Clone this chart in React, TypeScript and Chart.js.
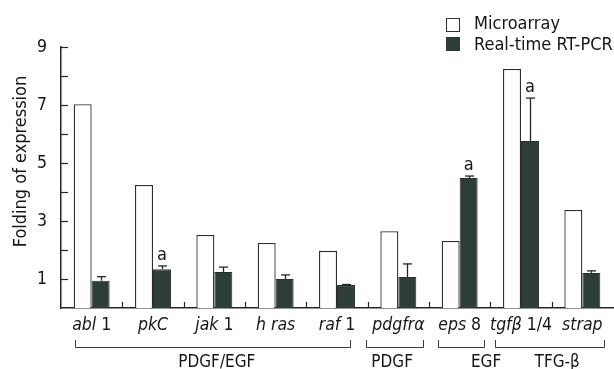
import React, { useEffect, useRef } from 'react';
import { Chart, registerables } from 'chart.js';

Chart.register(...registerables);

// ---- data ----
const categories = ['abl', 'pkC', 'jak', 'h ras', 'raf', 'pdgfrα', 'eps', 'tgfβ', 'strap'];
const categorySuffix = [' 1', '', ' 1', '', ' 1', '', ' 8', ' 1/4', ''];
const seriesNames = ['Microarray', 'Real-time RT-PCR'];
const microarray = [7.03, 4.24, 2.52, 2.24, 1.97, 2.65, 2.31, 8.24, 3.38];
const rtpcr = [0.94, 1.34, 1.24, 1.0, 0.79, 1.07, 4.48, 5.76, 1.21];
const rtpcrErrTop = [1.08, 1.45, 1.41, 1.14, 0.81, 1.52, 4.55, 7.24, 1.28];
const sigMarks = ['', 'a', '', '', '', '', 'a', 'a', ''];
const groupNames = ['PDGF/EGF', 'PDGF', 'EGF', 'TFG-β'];
const groupFrom = [-0.27, 4.47, 5.64, 6.58];
const groupTo = [4.21, 5.4, 6.4, 8.35];
const groupLabelAt = [2.04, 4.9, 6.43, 7.59];
const yTitle = 'Folding of expression';
const yMin = 0;
const yMax = 9;

const FONT = '"DejaVu Sans Condensed", "DejaVu Sans", sans-serif';
const TEXT = '#151515';
const AXIS = '#262626';
const DARK = '#2e3d36';

const decorPlugin = {
  id: 'decor',
  afterDatasetsDraw(chart: any) {
    const ctx = chart.ctx as CanvasRenderingContext2D;
    const xs = chart.scales.x;
    const ys = chart.scales.y;
    const area = chart.chartArea;
    const line = (x1: number, y1: number, x2: number, y2: number) => {
      ctx.beginPath();
      ctx.moveTo(x1, y1);
      ctx.lineTo(x2, y2);
      ctx.stroke();
    };
    ctx.save();
    ctx.strokeStyle = AXIS;
    ctx.lineWidth = 1.2;
    // inward y ticks
    for (let v = yMin + 1; v <= yMax; v++) {
      const py = Math.round(ys.getPixelForValue(v)) + 0.5;
      line(area.left, py, area.left + 7, py);
    }
    // inward x ticks between categories
    for (let i = 1; i < categories.length; i++) {
      const px = Math.round((xs.getPixelForValue(i - 1) + xs.getPixelForValue(i)) / 2) + 0.5;
      line(px, area.bottom, px, area.bottom - 6);
    }
    // error bars + significance marks
    const meta = chart.getDatasetMeta(1);
    ctx.lineWidth = 1.3;
    meta.data.forEach((bar: any, i: number) => {
      const top = ys.getPixelForValue(rtpcrErrTop[i]);
      const bx = Math.round(bar.x) + 0.5;
      if (top < bar.y) {
        line(bx, bar.y, bx, top);
      }
      line(bx - 4.5, top, bx + 4.5, top);
      if (sigMarks[i]) {
        ctx.fillStyle = TEXT;
        ctx.font = `18px ${FONT}`;
        ctx.textAlign = 'center';
        ctx.textBaseline = 'alphabetic';
        ctx.fillText(sigMarks[i], bar.x, top - 6);
      }
    });
    // category labels (italic gene name + upright suffix)
    ctx.fillStyle = TEXT;
    ctx.textBaseline = 'alphabetic';
    ctx.textAlign = 'left';
    categories.forEach((name, i) => {
      const cx = xs.getPixelForValue(i);
      ctx.font = `italic 17.5px ${FONT}`;
      const w1 = ctx.measureText(name).width;
      ctx.font = `17.5px ${FONT}`;
      const w2 = ctx.measureText(categorySuffix[i]).width;
      const start = cx - (w1 + w2) / 2;
      ctx.font = `italic 17.5px ${FONT}`;
      ctx.fillText(name, start, 330);
      ctx.font = `17.5px ${FONT}`;
      ctx.fillText(categorySuffix[i], start + w1, 330);
    });
    // group brackets
    const step = xs.getPixelForValue(1) - xs.getPixelForValue(0);
    const p0 = xs.getPixelForValue(0);
    ctx.lineWidth = 1;
    ctx.strokeStyle = '#3a3a3a';
    groupNames.forEach((g, k) => {
      const a = Math.round(p0 + groupFrom[k] * step) + 0.5;
      const b = Math.round(p0 + groupTo[k] * step) + 0.5;
      ctx.beginPath();
      ctx.moveTo(a, 340);
      ctx.lineTo(a, 347.5);
      ctx.lineTo(b, 347.5);
      ctx.lineTo(b, 340);
      ctx.stroke();
      ctx.font = `17px ${FONT}`;
      ctx.textAlign = 'center';
      ctx.fillText(g, p0 + groupLabelAt[k] * step, 367);
    });
    // y-axis title
    ctx.save();
    ctx.translate(21, 161.5);
    ctx.rotate(-Math.PI / 2);
    ctx.font = `18px ${FONT}`;
    ctx.textAlign = 'center';
    ctx.textBaseline = 'middle';
    ctx.fillStyle = TEXT;
    ctx.fillText(yTitle, 0, 0);
    ctx.restore();
    // legend
    const ds = chart.data.datasets;
    seriesNames.forEach((n, k) => {
      const top = 18 + k * 19;
      ctx.fillStyle = ds[k].backgroundColor;
      ctx.fillRect(446, top, 14, 14);
      ctx.strokeStyle = '#333';
      ctx.lineWidth = 1;
      ctx.strokeRect(446.5, top + 0.5, 13, 13);
      ctx.fillStyle = TEXT;
      ctx.font = `18px ${FONT}`;
      ctx.textAlign = 'left';
      ctx.textBaseline = 'alphabetic';
      ctx.fillText(n, 474, top + 11 + (k === 0 ? 0 : 2));
    });
    ctx.restore();
  },
};

export default function App() {
  const ref = useRef<HTMLCanvasElement | null>(null);
  useEffect(() => {
    document.body.style.margin = '0';
    if (!ref.current) return;
    const chart = new Chart(ref.current, {
      type: 'bar',
      data: {
        labels: categories.map((c, i) => c + categorySuffix[i]),
        datasets: [
          {
            label: seriesNames[0],
            data: microarray,
            backgroundColor: '#ffffff',
            borderColor: '#2e2e2e',
            borderWidth: 1.3,
            categoryPercentage: 0.586,
            barPercentage: 1,
          },
          {
            label: seriesNames[1],
            data: rtpcr,
            backgroundColor: DARK,
            borderColor: '#26302b',
            borderWidth: 1,
            categoryPercentage: 0.586,
            barPercentage: 1,
          },
        ],
      },
      options: {
        animation: false,
        responsive: false,
        maintainAspectRatio: false,
        devicePixelRatio: 1,
        layout: { padding: { top: 47, right: 1, left: 0, bottom: 0 } },
        plugins: { legend: { display: false }, tooltip: { enabled: false }, title: { display: false } },
        scales: {
          x: {
            type: 'category',
            offset: true,
            grid: { display: false, drawTicks: false },
            border: { display: true, color: AXIS, width: 1.5 },
            ticks: { display: false },
            afterFit: (s: any) => {
              s.height = 61;
            },
          },
          y: {
            min: yMin,
            max: yMax,
            grid: { display: false, drawTicks: false },
            border: { display: true, color: AXIS, width: 1.5 },
            ticks: {
              stepSize: 1,
              padding: 14,
              color: TEXT,
              font: { family: FONT, size: 17.5 },
              callback: (v: any) => (Number(v) % 2 === 1 ? String(v) : ''),
            },
            title: { display: false },
            afterFit: (s: any) => {
              s.width = 61;
            },
          },
        },
      },
      plugins: [decorPlugin],
    } as any);
    return () => chart.destroy();
  }, []);
  return (
    <div style={{ width: 614, height: 369, background: '#ffffff' }}>
      <canvas ref={ref} width={614} height={369} style={{ display: 'block' }} />
    </div>
  );
}
